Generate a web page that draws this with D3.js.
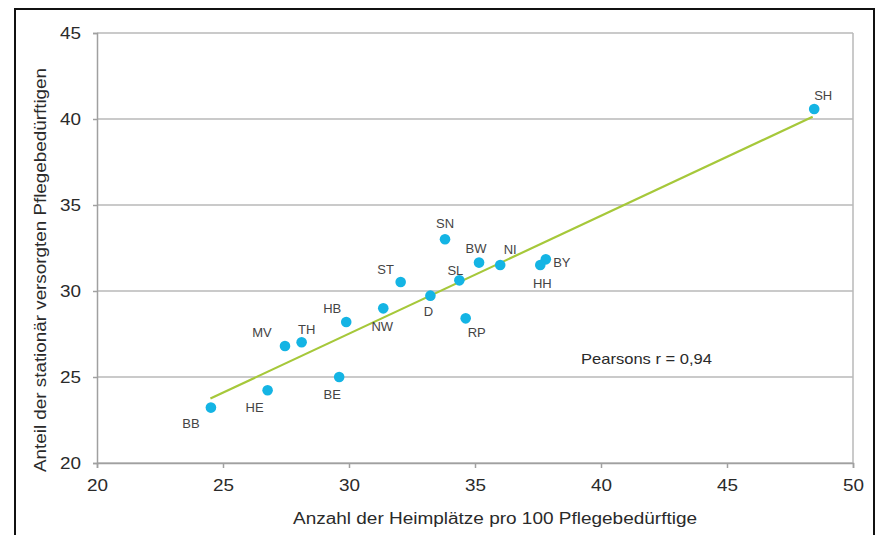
<!DOCTYPE html>
<html>
<head>
<meta charset="utf-8">
<script src="https://cdn.jsdelivr.net/npm/d3@7"></script>
<style>
  html, body { margin: 0; padding: 0; background: #fff; }
  svg { display: block; font-family: "Liberation Sans", Arial, sans-serif; }
</style>
</head>
<body>
<svg id="chart" width="878" height="535"></svg>
<script>
// ---- data ----
const states  = ["SH","SN","BW","NI","BY","HH","ST","SL","D","HB","NW","RP","MV","TH","BE","HE","BB"];
const heimplaetze = [48.46,33.81,35.16,36.00,37.81,37.59,32.05,34.38,33.23,29.89,31.36,34.63,27.46,28.12,29.61,26.77,24.52];
const stationaer  = [40.58,33.01,31.65,31.51,31.84,31.51,30.52,30.62,29.73,28.20,28.99,28.41,26.80,27.02,25.00,24.23,23.22];
const trendX = [24.5, 48.4];
const trendY = [23.75, 40.13];
const xTicks = [20,25,30,35,40,45,50];
const yTicks = [20,25,30,35,40,45];
const xTitle = "Anzahl der Heimplätze pro 100 Pflegebedürftige";
const yTitle = "Anteil der stationär versorgten Pflegebedürftigen";
const annotation = "Pearsons r = 0,94";

// label placement (pixel offsets from the dot, layout only)
const labelOffset = {
  SH:[9,-14], SN:[0,-16], BW:[-3,-14], NI:[10,-16], BY:[16,3], HH:[2,18],
  ST:[-15,-13], SL:[-4,-10], D:[-2,16], RP:[11,14], NW:[-1,18], HB:[-14,-13],
  MV:[-23,-14], TH:[5,-13], BE:[-7,17], HE:[-13,17], BB:[-20,16]
};

const svg = d3.select("#chart");
const L = 97, R = 853, T = 33, B = 463;
const x = d3.scaleLinear().domain([20,50]).range([L,R]);
const y = d3.scaleLinear().domain([20,45]).range([B,T]);

// outer frame
svg.append("rect").attr("x",15).attr("y",9).attr("width",859).attr("height",540)
  .attr("fill","none").attr("stroke","#111").attr("stroke-width",2);

// gridlines
svg.append("g").selectAll("line").data(yTicks).join("line")
  .attr("x1",L).attr("x2",R).attr("y1",d=>y(d)).attr("y2",d=>y(d))
  .attr("stroke","#b8b8b8").attr("stroke-width",1.5);
// right border
svg.append("line").attr("x1",R).attr("x2",R).attr("y1",T).attr("y2",B)
  .attr("stroke","#b8b8b8").attr("stroke-width",1.5);

// axes
const xAxis = svg.append("g").attr("transform",`translate(0,${B})`)
  .call(d3.axisBottom(x).tickValues(xTicks).tickSize(5).tickPadding(12));
const yAxis = svg.append("g").attr("transform",`translate(${L},0)`)
  .call(d3.axisLeft(y).tickValues(yTicks).tickSize(4).tickPadding(12));
[xAxis,yAxis].forEach(g=>{
  g.select(".domain").attr("stroke","#a0a0a0").attr("stroke-width",1.5);
  g.selectAll(".tick line").attr("stroke","#a0a0a0").attr("stroke-width",1.5);
  g.selectAll(".tick text").attr("fill","#2a2a2a").attr("font-size",16)
    .attr("font-family","'Liberation Sans', Arial, sans-serif");
  g.selectAll(".tick text").each(function(){
    d3.select(this).attr("textLength", this.textContent.length*10.5).attr("lengthAdjust","spacingAndGlyphs");
  });
});

// trend line
svg.append("path")
  .datum(trendX.map((v,i)=>[v,trendY[i]]))
  .attr("d", d3.line().x(d=>x(d[0])).y(d=>y(d[1])))
  .attr("stroke","#a6c83a").attr("stroke-width",2.2).attr("fill","none");

// points
const pts = states.map((s,i)=>({s, xv:heimplaetze[i], yv:stationaer[i]}));
svg.append("g").selectAll("circle").data(pts).join("circle")
  .attr("cx",d=>x(d.xv)).attr("cy",d=>y(d.yv)).attr("r",5.3)
  .attr("fill","#14b4e4");

// point labels
svg.append("g").selectAll("text").data(pts).join("text")
  .attr("x",d=>x(d.xv)+labelOffset[d.s][0])
  .attr("y",d=>y(d.yv)+labelOffset[d.s][1])
  .attr("text-anchor","middle").attr("dominant-baseline","central")
  .attr("font-size",13).attr("fill","#444")
  .text(d=>d.s);

// annotation
svg.append("text").attr("x",581).attr("y",359).attr("dominant-baseline","central")
  .attr("font-size",14.5).attr("fill","#2a2a2a")
  .attr("textLength",131).attr("lengthAdjust","spacingAndGlyphs")
  .text(annotation);

// axis titles
svg.append("text").attr("x",495).attr("y",518).attr("text-anchor","middle")
  .attr("dominant-baseline","central").attr("font-size",16).attr("fill","#2a2a2a")
  .attr("textLength",404).attr("lengthAdjust","spacingAndGlyphs")
  .text(xTitle);
svg.append("text").attr("transform","translate(40,270) rotate(-90)")
  .attr("text-anchor","middle").attr("dominant-baseline","central")
  .attr("font-size",16).attr("fill","#2a2a2a")
  .attr("textLength",404).attr("lengthAdjust","spacingAndGlyphs")
  .text(yTitle);
</script>
</body>
</html>
